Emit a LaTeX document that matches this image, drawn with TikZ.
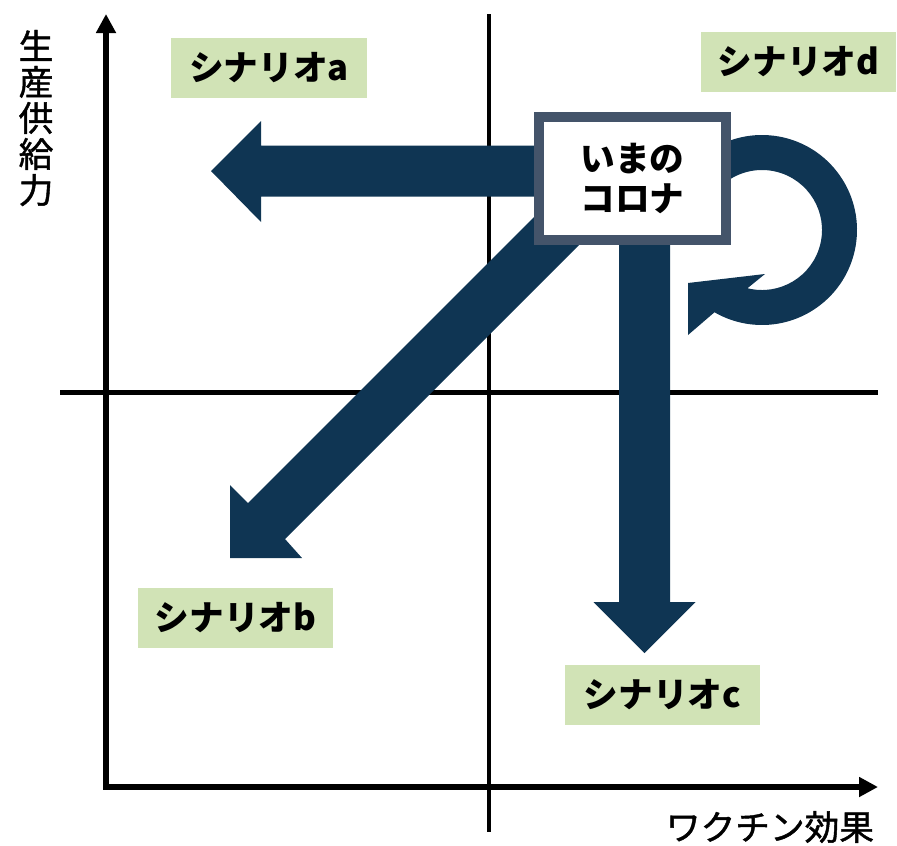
\documentclass[tikz,border=0pt]{standalone}
\usepackage{fontspec}
\newfontfamily\jp{Noto Sans CJK JP}
\newfontfamily\jpm{Noto Sans CJK JP}[FakeBold=1.3]
\usetikzlibrary{arrows.meta,calc}
\definecolor{navy}{HTML}{0F3553}
\definecolor{slate}{HTML}{44546A}
\definecolor{lgreen}{HTML}{D1E3B6}
\tikzset{
  scen/.style={fill=lgreen, minimum width=146.5pt, minimum height=45pt, inner sep=0pt,
    font=\jp\bfseries\fontsize{26}{30}\selectfont},
  axislbl/.style={font=\jpm\fontsize{26}{27}\selectfont, inner sep=0pt},
  axisline/.style={line width=4.5pt, {Triangle[length=14.25pt,width=14.25pt]}-{Triangle[length=14.25pt,width=14.25pt]}},
  midline/.style={line width=3.4pt},
  block/.style={fill=navy},
  nowbox/.style={draw=slate, line width=7.5pt, fill=white, minimum width=140.25pt, minimum height=92.25pt,
    inner sep=0pt, align=center, font=\jp\bfseries\fontsize{26}{30}\selectfont}
}
\begin{document}
\begin{tikzpicture}[x=0.75pt,y=0.75pt,yscale=-1]
\useasboundingbox (0,0) rectangle (897,846);
% quadrant lines
\draw[midline] (489,14) -- (489,832);
\draw[midline] (60,392.5) -- (878,392.5);
% axes
\draw[axisline] (106,14) -- (106,787) -- (878,787);
\node[axislbl, align=center] (ylab) at (36,118) {生\\産\\供\\給\\力};
\node[axislbl] (xlab) at (770,827) {ワクチン効果};
% scenario labels
\node[scen] (sa) at (269,68) {シナリオa};
\node[scen] (sd) at (798.5,62) {シナリオd};
\node[scen] (sb) at (235.5,617.5) {シナリオb};
\node[scen] (sc) at (662.5,695) {シナリオc};
% block arrows
\fill[block] (211,171) -- (261,121) -- (261,145.5) -- (600,145.5) -- (600,196.5) -- (261,196.5) -- (261,222) -- cycle;
\fill[block] (619,200) -- (670,200) -- (670,602) -- (695.5,602) -- (644.5,653) -- (593.5,602) -- (619,602) -- cycle;
\fill[block] (230,558) -- (230,485) -- (248,503) -- (591.75,159.25) -- (628.25,195.75) -- (285,539) -- (302,558) -- cycle;
\coordinate (cc) at (762,230);
\fill[block] ($(cc)+(235:95)$) arc[start angle=235, end angle=480, radius=95]
  -- (688,335) -- (688,283) -- (765,274) -- ($(cc)+(464:60)$)
  arc[start angle=464, end angle=235, radius=60] -- cycle;
% current state box
\node[nowbox] (now) at (632.5,178.5) {いまの\\コロナ};
\end{tikzpicture}
\end{document}
